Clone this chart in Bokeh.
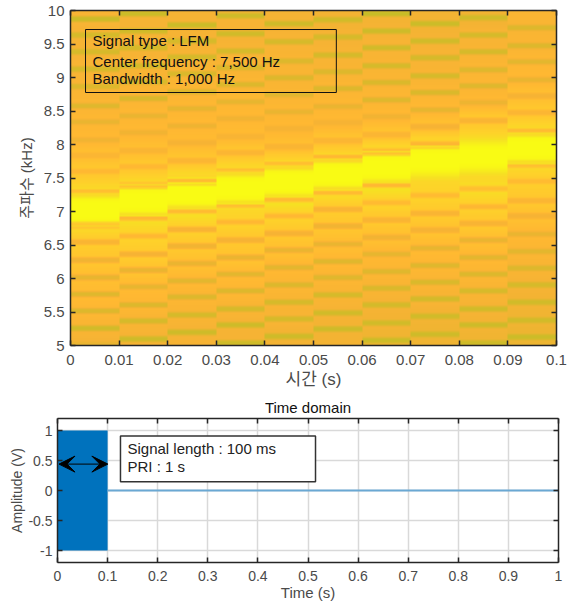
import numpy as np
from bokeh.embed import file_html
from bokeh.resources import INLINE
from bokeh.layouts import column, row
from bokeh.models import (Arrow, VeeHead, FixedTicker, LinearAxis, LinearColorMapper,
                          Range1d, Title)
from bokeh.plotting import figure
from bokeh.core.properties import value

# ---- spectrogram data, read per time slice (0.01 s wide) ----
TIME_EDGES = [0.0, 0.1]
FREQ_EDGES = [5.0, 10.0]
PEAK_KHZ = [7.02, 7.16, 7.27, 7.34, 7.44, 7.55, 7.66, 7.76, 7.82, 7.94]

STRIPE_F_0 = [9.88, 9.64, 9.39, 9.13, 8.87, 8.58, 8.34, 8.07, 7.84, 7.60, 7.31, 6.78, 6.54, 6.27, 6.01, 5.76, 5.51, 5.25, 5.01]
STRIPE_L_0 = [.08, .15, .15, .15, .2, .22, .3, .35, .45, .5, .55, .55, .42, .35, .28, .22, .2, .12, .3]
GAP_L_0 = [.4, .38, .38, .4, .42, .45, .48, .5, .55, .62, .76, .76, .66, .6, .55, .52, .48, .42, .38]

STRIPE_F_1 = [9.96, 9.70, 9.45, 9.18, 8.94, 8.69, 8.43, 8.18, 7.91, 7.67, 7.40, 6.90, 6.63, 6.36, 6.12, 5.87, 5.60, 5.36, 5.09]
STRIPE_L_1 = [.08, .12, .15, .15, .18, .18, .3, .35, .42, .5, .55, .5, .5, .38, .3, .28, .2, .15, .1]
GAP_L_1 = [.38, .38, .38, .4, .42, .45, .48, .5, .55, .62, .75, .82, .72, .65, .58, .52, .48, .42, .38]

STRIPE_F_2 = [9.79, 9.55, 9.31, 9.06, 8.79, 8.54, 8.28, 8.03, 7.76, 7.46, 7.00, 6.73, 6.48, 6.22, 5.96, 5.72, 5.45, 5.19]
STRIPE_L_2 = [.08, .15, .15, .18, .2, .28, .33, .38, .45, .52, .52, .4, .35, .3, .25, .2, .15, .1]
GAP_L_2 = [.38, .38, .4, .42, .45, .48, .5, .52, .6, .75, .82, .7, .62, .56, .5, .46, .42, .38]

STRIPE_F_3 = [9.93, 9.66, 9.40, 9.15, 8.90, 8.64, 8.39, 8.12, 7.88, 7.63, 7.09, 6.84, 6.57, 6.31, 6.06, 5.81, 5.54, 5.30, 5.03]
STRIPE_L_3 = [.1, .12, .15, .2, .2, .28, .35, .4, .45, .55, .55, .5, .38, .3, .25, .2, .15, .1, .1]
GAP_L_3 = [.38, .38, .4, .42, .45, .48, .5, .52, .6, .75, .85, .72, .62, .58, .52, .48, .42, .38, .38]

STRIPE_F_4 = [9.81, 9.54, 9.25, 9.00, 8.75, 8.49, 8.24, 7.97, 7.72, 7.18, 6.93, 6.67, 6.42, 6.16, 5.90, 5.64, 5.39, 5.13]
STRIPE_L_4 = [.1, .15, .2, .2, .25, .3, .38, .42, .55, .52, .5, .38, .3, .25, .2, .15, .15, .1]
GAP_L_4 = [.38, .4, .42, .42, .45, .48, .5, .55, .72, .85, .72, .62, .56, .5, .46, .42, .4, .36]

STRIPE_F_5 = [9.87, 9.61, 9.34, 9.09, 8.84, 8.57, 8.33, 8.06, 7.82, 7.28, 7.03, 6.78, 6.51, 6.25, 6.01, 5.75, 5.48, 5.24]
STRIPE_L_5 = [.12, .15, .15, .2, .2, .3, .38, .45, .5, .52, .42, .35, .3, .22, .22, .15, .12, .1]
GAP_L_5 = [.36, .38, .4, .42, .45, .48, .5, .58, .72, .78, .66, .6, .54, .5, .46, .42, .38, .36]

STRIPE_F_6 = [9.96, 9.70, 9.45, 9.18, 8.93, 8.67, 8.42, 8.15, 7.90, 7.39, 7.13, 6.87, 6.61, 6.36, 6.10, 5.85, 5.60, 5.33, 5.07]
STRIPE_L_6 = [.05, .1, .12, .15, .18, .22, .35, .45, .5, .5, .52, .42, .35, .28, .22, .18, .14, .12, .08]
GAP_L_6 = [.36, .38, .4, .42, .44, .46, .5, .58, .72, .85, .72, .62, .56, .5, .46, .42, .38, .36, .34]

STRIPE_F_7 = [9.81, 9.55, 9.30, 9.03, 8.78, 8.52, 8.27, 8.01, 7.24, 6.97, 6.72, 6.45, 6.19, 5.94, 5.69, 5.43, 5.16]
STRIPE_L_7 = [.08, .12, .15, .15, .18, .28, .38, .48, .52, .42, .38, .28, .22, .18, .14, .12, .1]
GAP_L_7 = [.36, .38, .4, .42, .46, .5, .56, .72, .72, .64, .58, .52, .48, .44, .4, .36, .34]

STRIPE_F_8 = [9.90, 9.64, 9.39, 9.12, 8.88, 8.63, 8.36, 7.34, 7.07, 6.82, 6.57, 6.31, 6.06, 5.81, 5.54, 5.30, 5.03]
STRIPE_L_8 = [.12, .15, .15, .22, .22, .32, .42, .55, .48, .4, .3, .25, .2, .16, .12, .1, .1]
GAP_L_8 = [.36, .4, .42, .45, .46, .5, .62, .8, .7, .62, .55, .5, .46, .42, .38, .36, .34]

STRIPE_F_9 = [9.75, 9.48, 9.24, 8.97, 8.73, 8.48, 8.21, 7.69, 7.45, 7.16, 6.93, 6.66, 6.40, 6.15, 5.90, 5.64, 5.37, 5.12]
STRIPE_L_9 = [.2, .2, .25, .3, .38, .45, .52, .55, .52, .45, .38, .3, .25, .2, .15, .12, .12, .08]
GAP_L_9 = [.42, .44, .48, .5, .55, .62, .76, .8, .68, .62, .56, .5, .46, .42, .38, .36, .34, .32]

STRIPE_F = [STRIPE_F_0, STRIPE_F_1, STRIPE_F_2, STRIPE_F_3, STRIPE_F_4, STRIPE_F_5, STRIPE_F_6, STRIPE_F_7, STRIPE_F_8, STRIPE_F_9]
STRIPE_L = [STRIPE_L_0, STRIPE_L_1, STRIPE_L_2, STRIPE_L_3, STRIPE_L_4, STRIPE_L_5, STRIPE_L_6, STRIPE_L_7, STRIPE_L_8, STRIPE_L_9]
GAP_L = [GAP_L_0, GAP_L_1, GAP_L_2, GAP_L_3, GAP_L_4, GAP_L_5, GAP_L_6, GAP_L_7, GAP_L_8, GAP_L_9]

SPEC_X_TICKS = [0, 0.01, 0.02, 0.03, 0.04, 0.05, 0.06, 0.07, 0.08, 0.09, 0.1]
SPEC_X_LABELS = ["0", "0.01", "0.02", "0.03", "0.04", "0.05", "0.06", "0.07", "0.08", "0.09", "0.1"]
SPEC_Y_TICKS = [5, 5.5, 6, 6.5, 7, 7.5, 8, 8.5, 9, 9.5, 10]
SPEC_Y_LABELS = ["5", "5.5", "6", "6.5", "7", "7.5", "8", "8.5", "9", "9.5", "10"]

# ---- time-domain data ----
BURST_T = [0.0, 0.1]
BURST_HI = [1.0, 1.0]
BURST_LO = [-1.0, -1.0]
IDLE_T = [0.1, 1.0]
IDLE_V = [0.0, 0.0]
TIME_X_TICKS = [0, 0.1, 0.2, 0.3, 0.4, 0.5, 0.6, 0.7, 0.8, 0.9, 1]
TIME_X_LABELS = ["0", "0.1", "0.2", "0.3", "0.4", "0.5", "0.6", "0.7", "0.8", "0.9", "1"]
TIME_Y_TICKS = [-1, -0.5, 0, 0.5, 1]
TIME_Y_LABELS = ["-1", "-0.5", "0", "0.5", "1"]

INFO_TOP = ["Signal type : LFM", "Center frequency : 7,500 Hz", "Bandwidth : 1,000 Hz"]
INFO_BOTTOM = ["Signal length : 100 ms", "PRI : 1 s"]

# ---- styling ----
SANS = "Liberation Sans"
KR = "Liberation Sans, 'Noto Sans CJK KR'"
DARK = "#262626"
GRAY = "#4a4a4a"

stops_l = [0.0, 0.15, 0.3, 0.38, 0.5, 0.6, 0.72, 0.85, 1.0]
stops_c = [(192, 190, 38), (214, 186, 42), (234, 181, 48), (246, 179, 52), (255, 184, 50),
           (255, 198, 46), (254, 210, 42), (246, 226, 34), (249, 251, 20)]
lv = np.linspace(0, 1, 256)
palette = ["#%02x%02x%02x" % tuple(int(round(np.interp(x, stops_l, [c[i] for c in stops_c]))) for i in range(3)) for x in lv]
mapper = LinearColorMapper(palette=palette, low=0, high=1)

rows = np.linspace(FREQ_EDGES[0], FREQ_EDGES[1], 335)
cols = []
for p_f, fs, ss, gs in zip(PEAK_KHZ, STRIPE_F, STRIPE_L, GAP_L):
    kn = []
    for f, s, g in zip(fs, ss, gs):
        kn += [(f - .06, g), (f - .018, s), (f + .018, s), (f + .06, g)]
    kn += [(p_f - .31, .76), (p_f - .23, .88), (p_f - .16, .97), (p_f - .1, 1.0),
           (p_f + .1, 1.0), (p_f + .16, .97), (p_f + .23, .88), (p_f + .31, .76)]
    kn.sort()
    cols.append(np.interp(rows, [k[0] for k in kn], [k[1] for k in kn]))
spec = np.array(cols).T


def style(p, xt, xl, yt, yl, tick_size, xlabel_size, ylabel_size):
    bottom_axis, left_axis = p.below[0], p.left[0]
    for ax, ticks, labels, lab in ((bottom_axis, xt, xl, xlabel_size), (left_axis, yt, yl, ylabel_size)):
        ax.ticker = FixedTicker(ticks=ticks)
        ax.major_label_overrides = dict(zip(ticks, labels))
        ax.major_tick_in = 5
        ax.major_tick_out = 0
        ax.minor_tick_line_color = None
        ax.axis_line_color = DARK
        ax.axis_line_width = 1.5
        ax.major_tick_line_color = DARK
        ax.major_tick_line_width = 1.5
        ax.major_label_text_font = SANS
        ax.major_label_text_font_size = tick_size
        ax.major_label_text_color = GRAY
        ax.axis_label_text_font = KR
        ax.axis_label_text_font_size = lab
        ax.axis_label_text_font_style = "normal"
        ax.axis_label_text_color = GRAY
    for side, ticks in (("above", xt), ("right", yt)):
        a = LinearAxis(ticker=FixedTicker(ticks=ticks), major_label_text_font_size="0px",
                       major_tick_in=5, major_tick_out=0, minor_tick_line_color=None,
                       axis_line_color=DARK, axis_line_width=1.5, major_tick_line_color=DARK,
                       major_tick_line_width=1.5, major_label_standoff=0)
        a.major_label_text_color = None
        p.add_layout(a, side)
    p.outline_line_color = None
    return bottom_axis, left_axis


# ---- spectrogram ----
p1 = figure(width=570, height=395, frame_width=486, frame_height=335,
            x_range=Range1d(*TIME_EDGES), y_range=Range1d(*FREQ_EDGES),
            toolbar_location=None, output_backend="svg",
            min_border_left=70, min_border_top=10, min_border_right=14, min_border_bottom=50,
            x_axis_label="시간 (s)", y_axis_label="주파수 (kHz)")
p1.image(image=[spec], x=TIME_EDGES[0], y=FREQ_EDGES[0], dw=TIME_EDGES[1] - TIME_EDGES[0],
         dh=FREQ_EDGES[1] - FREQ_EDGES[0], color_mapper=mapper)
p1.grid.visible = False
bx1, ly1 = style(p1, SPEC_X_TICKS, SPEC_X_LABELS, SPEC_Y_TICKS, SPEC_Y_LABELS, "15px", "17px", "15px")
bx1.major_label_standoff = 9
ly1.major_label_standoff = 6
bx1.axis_label_standoff = 2
ly1.axis_label_standoff = 6
p1.quad(left=[0.00309], right=[0.0547], bottom=[8.776], top=[9.716], fill_alpha=0,
        line_color="#111111", line_width=1)
p1.text(x=[0.00453] * 3, y=[9.55, 9.245, 8.985], text=INFO_TOP, text_font=value(SANS),
        text_font_size="15px", text_color="#111111", text_baseline="middle", text_align="left")

# ---- time domain ----
p2 = figure(width=570, height=205, frame_width=501, frame_height=144,
            x_range=Range1d(0, 1), y_range=Range1d(-1.2, 1.2),
            toolbar_location=None, output_backend="svg",
            min_border_left=57, min_border_top=23, min_border_right=12, min_border_bottom=38,
            x_axis_label="Time (s)", y_axis_label="Amplitude (V)")
p2.title = Title(text="Time domain", align="center", text_font=SANS, text_font_size="15px",
                 text_font_style="normal", text_color="#111111", offset=0, standoff=6)
p2.grid.grid_line_color = "#d9d9d9"
p2.grid.grid_line_width = 1.5
p2.varea(x=BURST_T, y1=BURST_LO, y2=BURST_HI, fill_color="#0072bd")
p2.line(x=IDLE_T, y=IDLE_V, line_color="#6aa8d3", line_width=2)
p2.quad(left=[0.1257], right=[0.515], bottom=[0.145], top=[0.91], fill_color="white",
        line_color="#333333", line_width=1.5)
p2.text(x=[0.1397] * 2, y=[0.705, 0.40], text=INFO_BOTTOM, text_font=value(SANS),
        text_font_size="15px", text_color="#222222", text_baseline="middle", text_align="left")
p2.add_layout(Arrow(start=VeeHead(size=16, fill_color="black", line_color="black"),
                    end=VeeHead(size=16, fill_color="black", line_color="black"),
                    x_start=0.003, x_end=0.1005, y_start=0.44, y_end=0.44,
                    line_color="black", line_width=1))
bx2, ly2 = style(p2, TIME_X_TICKS, TIME_X_LABELS, TIME_Y_TICKS, TIME_Y_LABELS, "14px", "15px", "14px")
bx2.major_label_standoff = 8
ly2.major_label_standoff = 5
bx2.axis_label_standoff = 0
ly2.axis_label_standoff = 0
p2.margin = (-2, 0, 0, 0)

page = column(row(p1), row(p2), spacing=0)
open("out.html", "w").write(file_html(page, INLINE))
